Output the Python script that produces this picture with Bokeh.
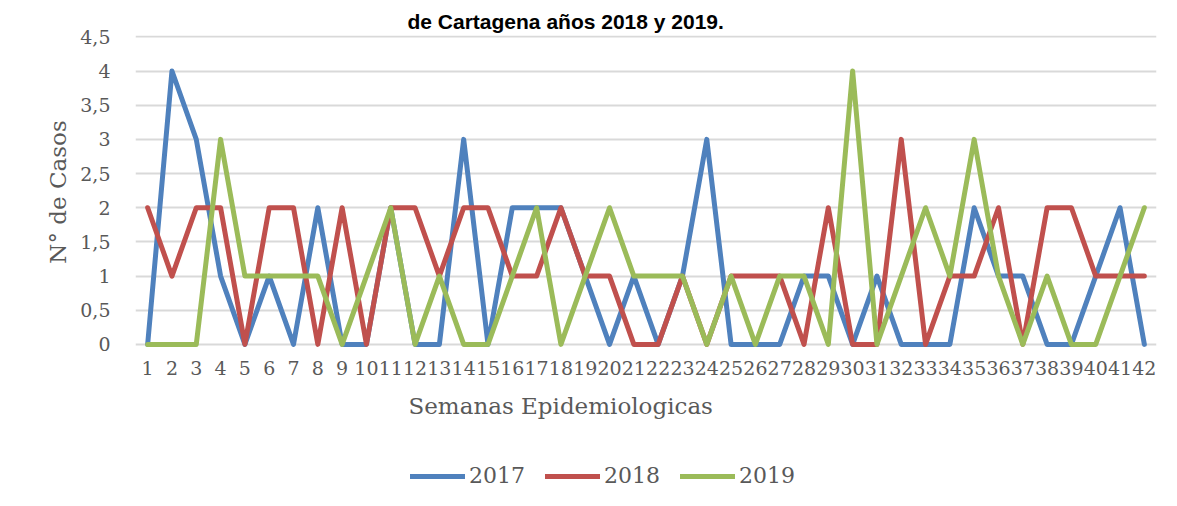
from bokeh.plotting import figure
from bokeh.layouts import column
from bokeh.models import Range1d, FixedTicker, CustomJSTickFormatter, Title, Legend, LegendItem
from bokeh.embed import file_html
from bokeh.resources import INLINE

weeks = list(range(1, 43))
s2017 = [0, 4, 3, 1, 0, 1, 0, 2, 0, 0, 2, 0, 0, 3, 0, 2, 2, 2, 1, 0, 1,
         0, 1, 3, 0, 0, 0, 1, 1, 0, 1, 0, 0, 0, 2, 1, 1, 0, 0, 1, 2, 0]
s2018 = [2, 1, 2, 2, 0, 2, 2, 0, 2, 0, 2, 2, 1, 2, 2, 1, 1, 2, 1, 1, 0,
         0, 1, 0, 1, 1, 1, 0, 2, 0, 0, 3, 0, 1, 1, 2, 0, 2, 2, 1, 1, 1]
s2019 = [0, 0, 0, 3, 1, 1, 1, 1, 0, 1, 2, 0, 1, 0, 0, 1, 2, 0, 1, 2, 1,
         1, 1, 0, 1, 0, 1, 1, 0, 4, 0, 1, 2, 1, 3, 1, 0, 1, 0, 0, 1, 2]
series_names = ["2017", "2018", "2019"]
series_colors = ["#4F81BD", "#C0504D", "#9BBB59"]
y_ticks = [0, 0.5, 1, 1.5, 2, 2.5, 3, 3.5, 4, 4.5]
title_text = "de Cartagena años 2018 y 2019."
x_title = "Semanas Epidemiologicas"
y_title = "N° de Casos"

TXT = "#595959"
SERIF = "DejaVu Serif"
NAN = float("nan")

p = figure(width=1177, height=440, output_backend="svg", toolbar_location=None,
           x_range=Range1d(0.5, 42.5), y_range=Range1d(-0.06, 4.52),
           min_border_left=135, min_border_right=21, min_border_top=35,
           min_border_bottom=92)
p.outline_line_color = None
p.background_fill_color = "white"
p.border_fill_color = "white"

for vals, col in zip([s2017, s2018, s2019], series_colors):
    p.line(weeks, vals, line_color=col, line_width=5,
           line_join="round", line_cap="round")

# axes
p.xaxis.ticker = FixedTicker(ticks=weeks)
p.yaxis.ticker = FixedTicker(ticks=y_ticks)
p.yaxis.formatter = CustomJSTickFormatter(code="return tick.toString().replace('.', ',');")
for ax in (p.xaxis[0], p.yaxis[0]):
    ax.axis_line_color = None
    ax.major_tick_line_color = None
    ax.minor_tick_line_color = None
    ax.major_label_text_font = SERIF
    ax.major_label_text_font_size = "19px"
    ax.major_label_text_color = TXT
p.xaxis.major_label_standoff = 6
p.yaxis.major_label_standoff = 19
p.yaxis.axis_label = y_title
p.yaxis.axis_label_text_font = SERIF
p.yaxis.axis_label_text_font_size = "23px"
p.yaxis.axis_label_text_font_style = "normal"
p.yaxis.axis_label_text_color = TXT
p.yaxis.axis_label_standoff = 6

p.xgrid.grid_line_color = None
p.ygrid.grid_line_color = "#D9D9D9"
p.ygrid.grid_line_width = 2

top_title = Title(text=title_text, align="left", offset=272, text_font="Liberation Sans",
                  text_font_style="bold", text_font_size="21px", text_color="#000000",
                  standoff=6)
p.add_layout(top_title, "above")

xt = Title(text=x_title, align="left", offset=273, text_font=SERIF,
           text_font_style="normal", text_font_size="23px", text_color=TXT, standoff=27)
p.add_layout(xt, "below")

# legend strip
pl = figure(width=1177, height=66, output_backend="svg", toolbar_location=None,
            x_range=Range1d(0, 1), y_range=Range1d(0, 1), min_border=0)
pl.axis.visible = False
pl.grid.grid_line_color = None
pl.outline_line_color = None
leg_renderers = [pl.line([NAN], [NAN], line_color=c, line_width=5, line_cap="round")
                 for c in series_colors]
legend = Legend(items=[LegendItem(label=n, renderers=[r]) for n, r in zip(series_names, leg_renderers)],
                orientation="horizontal", location=(275, 18), padding=0, margin=0,
                spacing=20, glyph_width=55, glyph_height=24, label_height=24,
                label_standoff=4, border_line_color=None, background_fill_alpha=0,
                label_text_font=SERIF, label_text_font_size="22px",
                label_text_color=TXT)
pl.add_layout(legend)

open("out.html", "w").write(file_html(column(p, pl), INLINE))
